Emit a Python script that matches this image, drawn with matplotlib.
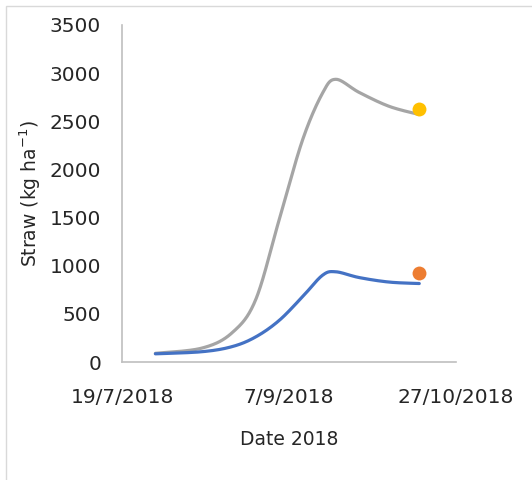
import datetime as dt

import matplotlib
matplotlib.use("Agg")
import matplotlib.dates as mdates
import matplotlib.pyplot as plt
import numpy as np
from matplotlib.patches import Rectangle

# sample dates and straw values (kg/ha)
dates = ["2018-07-29", "2018-08-12", "2018-08-21", "2018-08-28", "2018-09-04", "2018-09-11",
         "2018-09-17", "2018-09-21", "2018-09-28", "2018-10-07", "2018-10-16"]
straw_grey = [90, 145, 305, 645, 1470, 2300, 2790, 2936, 2800, 2655, 2570]
straw_blue = [85, 107, 160, 260, 430, 676, 900, 937, 877, 830, 815]

# single observed points at the end
obs_date = "2018-10-16"
obs_yellow = 2630
obs_orange = 925

x_ticks = ["2018-07-19", "2018-09-07", "2018-10-27"]


def to_num(ds):
    return np.array([mdates.date2num(dt.datetime.strptime(d, "%Y-%m-%d")) for d in ds])


def smooth(x, y, n=40):
    # Excel-style smoothed line: cubic bezier, control points at +/- 1/6 of neighbour difference
    pts = np.column_stack([x, y]).astype(float)
    padded = np.vstack([pts[0], pts, pts[-1]])
    out = []
    t = np.linspace(0, 1, n)[:, None]
    for i in range(len(pts) - 1):
        p0, p3 = pts[i], pts[i + 1]
        p1 = p0 + (padded[i + 2] - padded[i]) / 6
        p2 = p3 - (padded[i + 3] - padded[i + 1]) / 6
        seg = ((1 - t) ** 3) * p0 + 3 * ((1 - t) ** 2) * t * p1 + 3 * (1 - t) * t ** 2 * p2 + t ** 3 * p3
        out.append(seg if i == 0 else seg[1:])
    out = np.vstack(out)
    return out[:, 0], out[:, 1]


xd = to_num(dates)
xt = to_num(x_ticks)

fig = plt.figure(figsize=(5.32, 4.8), dpi=100)
ax = fig.add_axes([122 / 532, 1 - 362 / 480, 334 / 532, 337 / 480])

gx, gy = smooth(xd, straw_grey)
bx, by = smooth(xd, straw_blue)
ax.plot(gx, gy, color="#A5A5A5", lw=2.3, solid_capstyle="round")
ax.plot(bx, by, color="#4472C4", lw=2.3, solid_capstyle="round")
ax.plot(to_num([obs_date]), [obs_yellow], "o", color="#FFC000", ms=10, mec="none")
ax.plot(to_num([obs_date]), [obs_orange], "o", color="#ED7D31", ms=10, mec="none")

ax.set_xlim(xt[0], xt[-1])
ax.set_ylim(0, 3500)
ax.set_xticks(xt)
ax.set_xticklabels([f"{d.day}/{d.month}/{d.year}" for d in mdates.num2date(xt)])
ax.set_yticks(np.arange(0, 3501, 500))
ax.tick_params(length=0, labelsize=14.5, colors="#262626")
ax.tick_params(axis="y", pad=15)
ax.tick_params(axis="x", pad=18.5)

for s in ["top", "right"]:
    ax.spines[s].set_visible(False)
for s in ["left", "bottom"]:
    ax.spines[s].set_color("#BFBFBF")
    ax.spines[s].set_linewidth(1.2)

ax.set_xlabel("Date 2018", fontsize=13.5, color="#262626", labelpad=17)
ax.set_ylabel(r"Straw (kg ha$^{-1}$)", fontsize=13.5, color="#262626", labelpad=4.5)

# outer chart border (only top and left are inside the picture)
fig.patches.append(Rectangle((6 / 532, -0.1), 1.2, 1.1 - 6 / 480, transform=fig.transFigure,
                             fill=False, edgecolor="#D9D9D9", lw=1))

fig.savefig("out.png", dpi=100)
